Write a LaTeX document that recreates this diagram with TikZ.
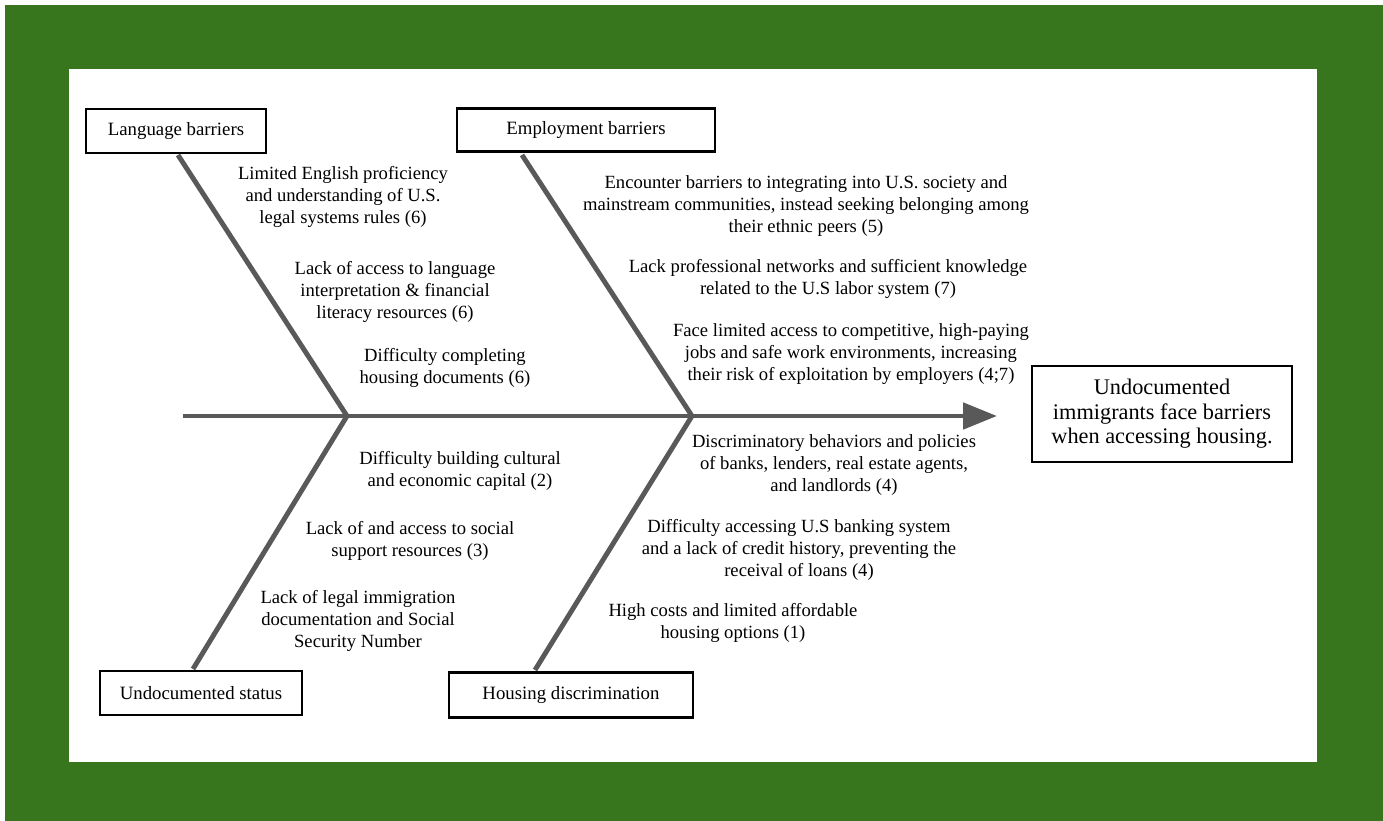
\documentclass[tikz,border=0pt]{standalone}
\usepackage{fontspec}
\setmainfont{Liberation Serif}
\usetikzlibrary{arrows.meta}
\definecolor{leaf}{HTML}{38761D}
\definecolor{bonegray}{HTML}{595959}
\tikzset{
  catbox/.style={draw, line width=1.3pt, fill=white, font=\fontsize{10.7}{12}\selectfont, inner sep=0pt},
  bone/.style={draw=bonegray, line width=2.8pt},
  cause/.style={align=center, inner sep=0pt, font=\fontsize{10.6}{12.6}\selectfont},
}
\begin{document}
\begin{tikzpicture}[x=0.02cm,y=-0.02cm]
  \useasboundingbox (0,0) rectangle (1383,821);
  \fill[white] (0,0) rectangle (1383,821);
  \fill[leaf] (5,5) rectangle (1383,821);
  \fill[white] (69,69) rectangle (1317,762);

  % spine and joints
  \coordinate (tail) at (183,416);
  \coordinate (head) at (997,416);
  \coordinate (j1) at (347,416);
  \coordinate (j2) at (692,416);
  \draw[bone, -{Triangle[length=0.68cm,width=0.52cm]}] (tail) -- (head);

  % effect
  \node[catbox, minimum width=5.2cm, minimum height=1.92cm, align=center,
        font=\fontsize{12.7}{14}\selectfont] (effect) at (1162,414)
        {Undocumented\\immigrants face barriers\\when accessing housing.};

  % categories
  \node[catbox, minimum width=3.6cm, minimum height=0.88cm] (lang) at (176,131) {Language barriers};
  \node[catbox, minimum width=5.16cm, minimum height=0.86cm] (emp) at (586,130) {Employment barriers};
  \node[catbox, minimum width=4.04cm, minimum height=0.88cm] (undoc) at (201,693) {Undocumented status};
  \node[catbox, minimum width=4.88cm, minimum height=0.9cm] (house) at (571,695) {Housing discrimination};

  % bones
  \coordinate (l0) at (178,155);
  \coordinate (e0) at (522,155);
  \coordinate (u0) at (193,669);
  \coordinate (h0) at (535,670);
  \draw[bone] (l0) -- (j1);
  \draw[bone] (e0) -- (j2);
  \draw[bone] (u0) -- (j1);
  \draw[bone] (h0) -- (j2);

  % language causes
  \node[cause] (l1) at (343,197) {Limited English proficiency\\and understanding of U.S.\\legal systems rules (6)};
  \node[cause] (l2) at (395,292) {Lack of access to language\\interpretation \& financial\\literacy resources (6)};
  \node[cause] (l3) at (445,368) {Difficulty completing\\housing documents (6)};

  % employment causes
  \node[cause] (e1) at (806,206) {Encounter barriers to integrating into U.S. society and\\mainstream communities, instead seeking belonging among\\their ethnic peers (5)};
  \node[cause] (e2) at (828,279) {Lack professional networks and sufficient knowledge\\related to the U.S labor system (7)};
  \node[cause] (e3) at (851,354) {Face limited access to competitive, high-paying\\jobs and safe work environments, increasing\\their risk of exploitation by employers (4;7)};

  % status causes
  \node[cause] (u1) at (460,471) {Difficulty building cultural\\and economic capital (2)};
  \node[cause] (u2) at (410,541) {Lack of and access to social\\support resources (3)};
  \node[cause] (u3) at (358,621) {Lack of legal immigration\\documentation and Social\\Security Number};

  % discrimination causes
  \node[cause] (h1) at (834,465) {Discriminatory behaviors and policies\\of banks, lenders, real estate agents,\\and landlords (4)};
  \node[cause] (h2) at (799,550) {Difficulty accessing U.S banking system\\and a lack of credit history, preventing the\\receival of loans (4)};
  \node[cause] (h3) at (733,623) {High costs and limited affordable\\housing options (1)};
\end{tikzpicture}
\end{document}
